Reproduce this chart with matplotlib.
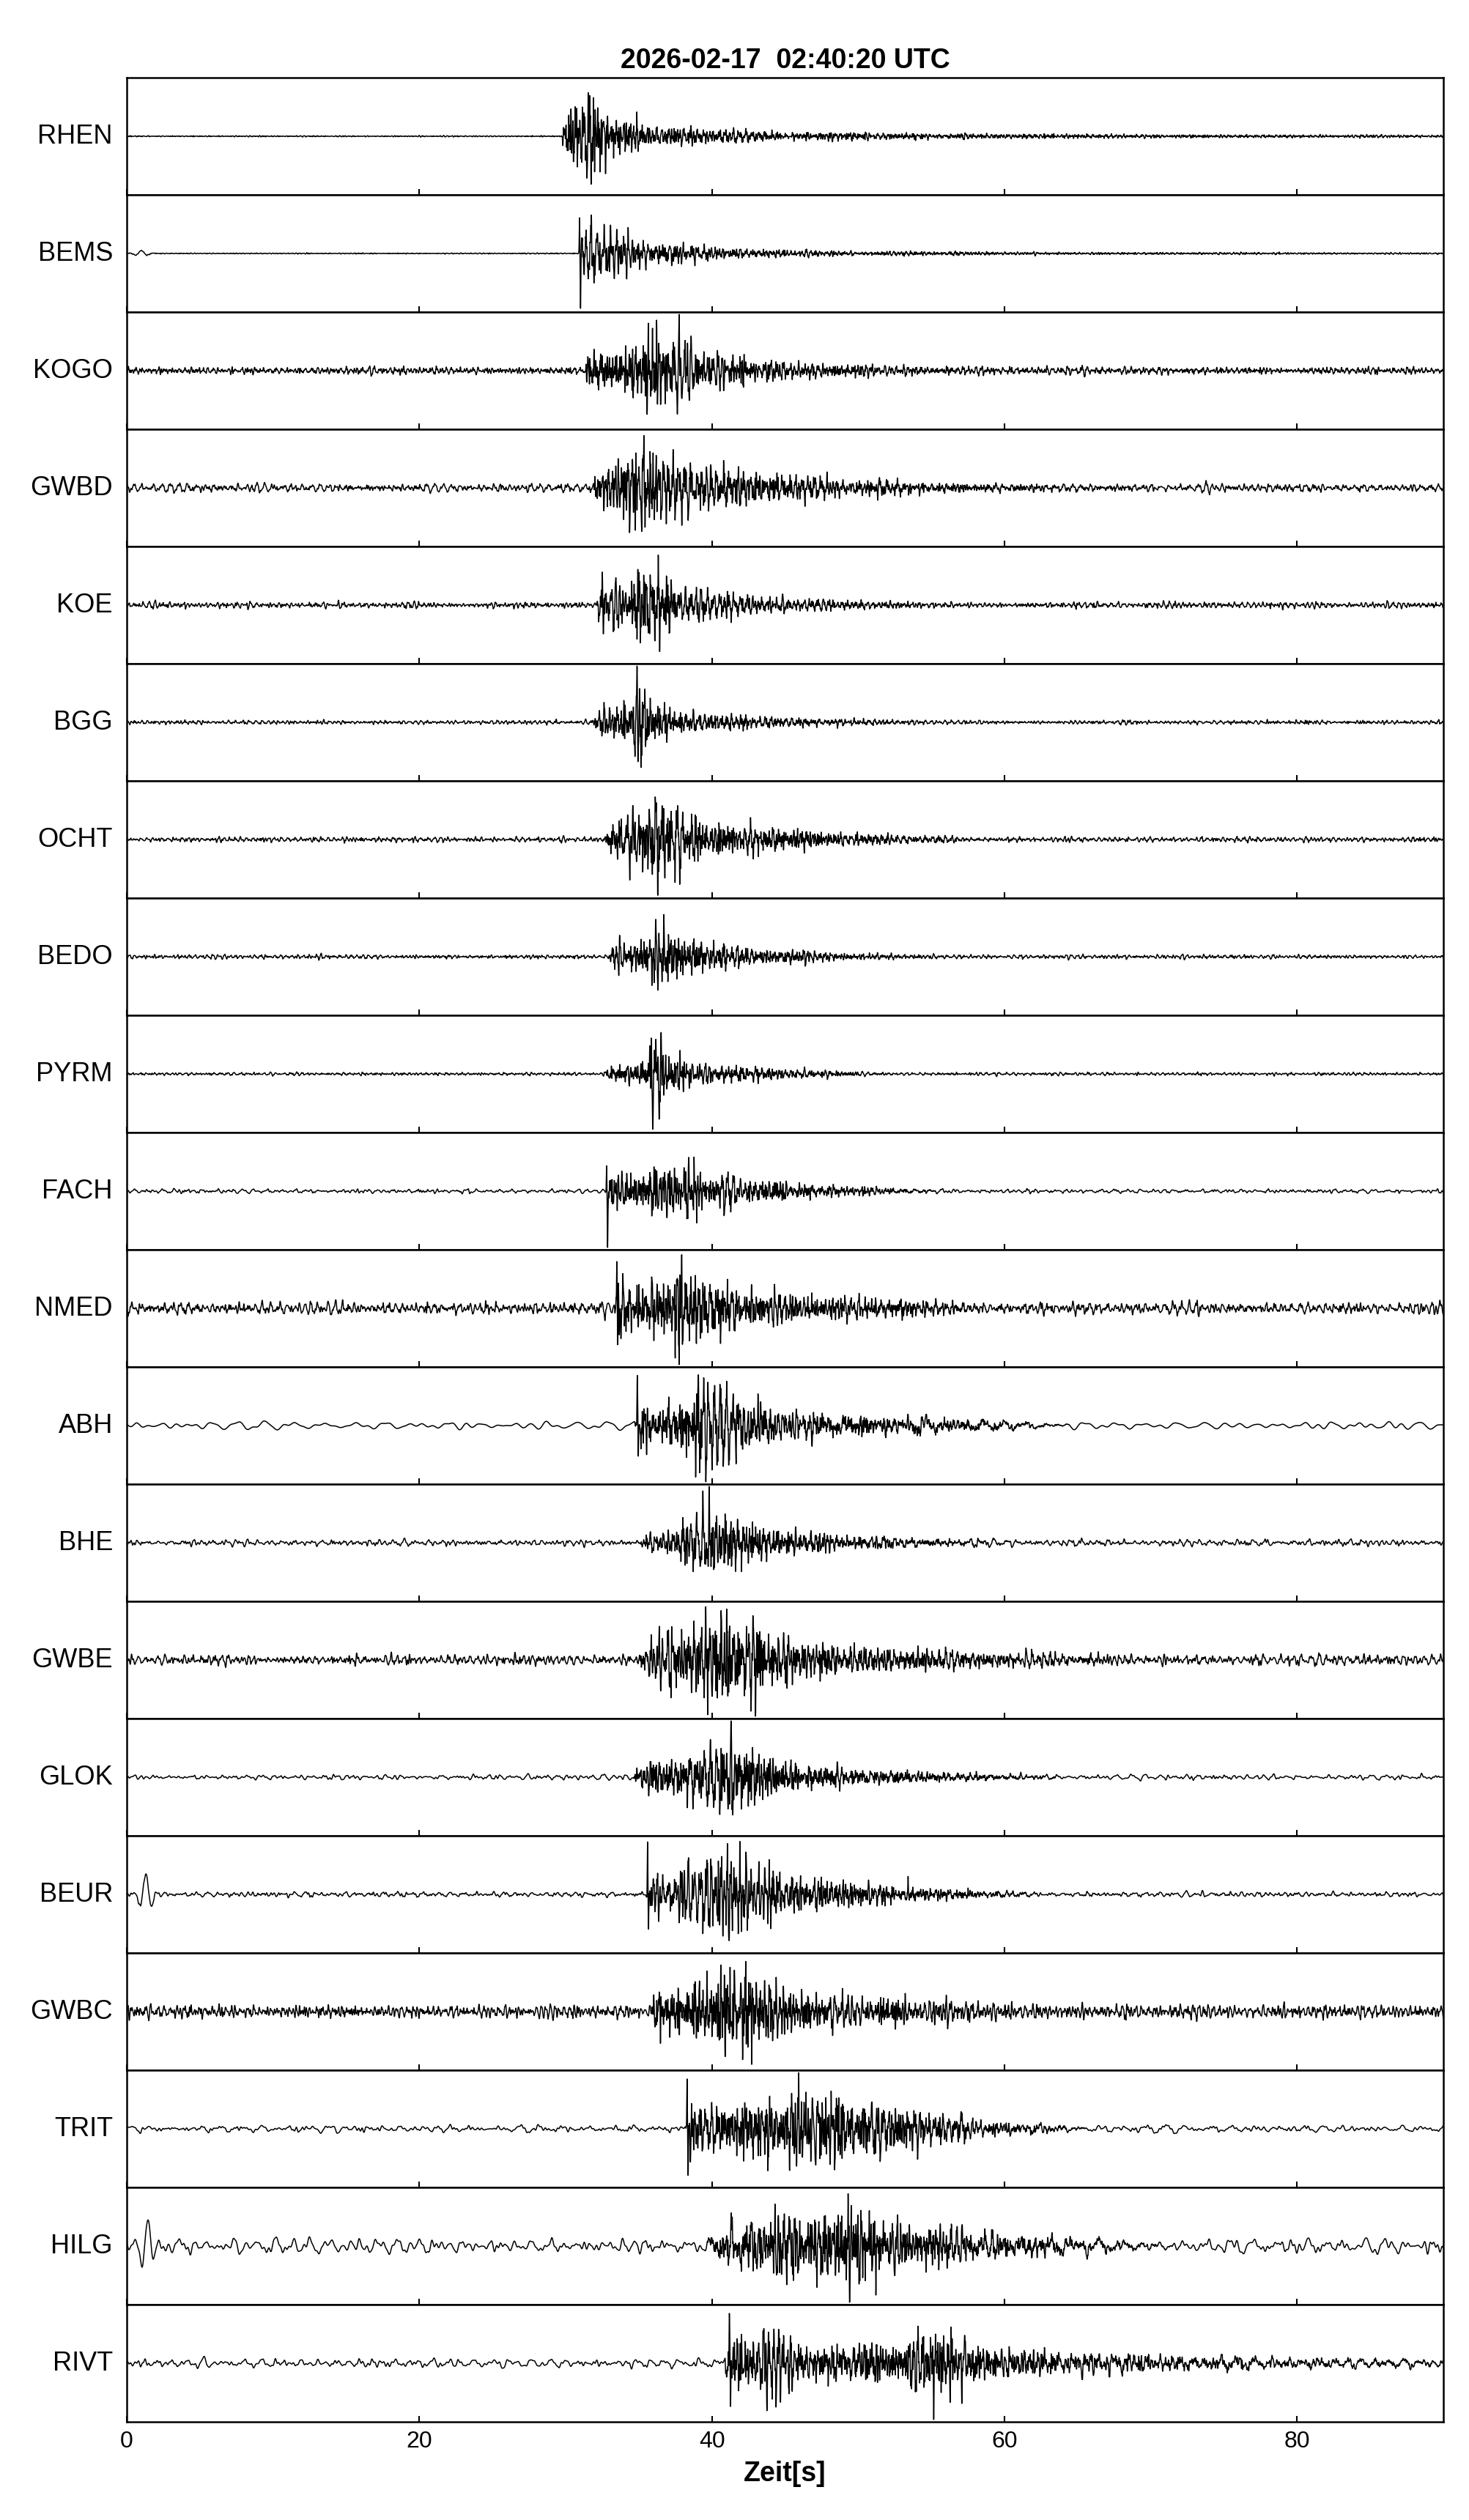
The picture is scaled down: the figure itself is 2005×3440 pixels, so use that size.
import numpy as np
import matplotlib
matplotlib.use("Agg")
import matplotlib.pyplot as plt

plt.rcParams['font.family'] = ['Liberation Sans', 'DejaVu Sans']

TITLE = "2026-02-17  02:40:20 UTC"
XLABEL = "Zeit[s]"
T_END = 90.0
FS = 100.0  # samples per second of the drawn traces
XTICKS = [0, 20, 40, 60, 80]

stations = ["RHEN", "BEMS", "KOGO", "GWBD", "KOE", "BGG", "OCHT", "BEDO", "PYRM", "FACH",
            "NMED", "ABH", "BHE", "GWBE", "GLOK", "BEUR", "GWBC", "TRIT", "HILG", "RIVT"]

# background noise level (fraction of half panel height) and its frequency band [Hz]
noise_amp = [0.012, 0.01, 0.08, 0.08, 0.06, 0.04, 0.05, 0.04, 0.03, 0.04,
             0.14, 0.09, 0.10, 0.10, 0.07, 0.05, 0.13, 0.07, 0.15, 0.11]
noise_lo = [3, 3, 2, 1.5, 2, 2, 2, 2, 2, 1, 1.5, 0.45, 1, 1.5, 0.8, 1, 2, 0.6, 0.5, 0.7]
noise_hi = [15, 15, 15, 12, 12, 12, 12, 12, 12, 8, 12, 1.5, 8, 10, 6, 8, 12, 5, 4, 5]

# event envelope: times [s] and amplitude levels
env_t = [
    [29.7, 30.1, 31.0, 31.8, 32.8, 34.0, 36.0, 40.0, 46.0, 55.0, 70.0, 90.0],
    [30.9, 31.2, 32.0, 33.0, 35.0, 38.0, 42.0, 50.0, 65.0, 90.0],
    [31.2, 31.6, 34.0, 35.8, 37.2, 39.0, 42.0, 46.0, 52.0, 60.0, 90.0],
    [31.8, 32.3, 34.0, 35.5, 37.0, 39.5, 44.0, 48.0, 53.0, 60.0, 70.0],
    [32.1, 32.4, 34.0, 35.6, 37.0, 40.0, 45.0, 50.0, 60.0],
    [31.9, 32.2, 34.5, 35.0, 35.8, 38.0, 42.0, 48.0, 56.0],
    [32.6, 33.0, 35.0, 36.1, 37.5, 40.0, 44.0, 48.0, 52.0, 60.0],
    [32.9, 33.2, 35.5, 36.6, 37.5, 40.0, 44.0, 50.0, 57.0],
    [32.5, 33.0, 35.5, 36.0, 36.8, 39.0, 43.0, 47.0, 53.0],
    [32.7, 33.0, 35.0, 37.0, 38.5, 40.0, 43.0, 48.0, 56.0],
    [33.3, 33.6, 35.0, 38.0, 40.0, 41.5, 44.0, 47.0, 53.0, 60.0],
    [34.7, 35.1, 37.0, 39.2, 41.0, 42.5, 45.0, 50.0, 57.0, 65.0],
    [34.8, 35.5, 37.5, 39.0, 41.5, 43.5, 46.0, 49.0, 55.0, 62.0],
    [34.8, 35.5, 37.5, 39.5, 41.5, 43.5, 46.0, 50.0, 57.0, 65.0, 72.0],
    [34.6, 35.2, 37.5, 39.5, 41.8, 43.5, 46.0, 50.0, 56.0, 65.0],
    [35.5, 35.8, 37.0, 38.5, 40.8, 42.5, 46.0, 50.0, 56.0, 63.0],
    [35.8, 36.2, 38.0, 40.0, 42.2, 43.5, 46.0, 50.0, 56.0, 65.0],
    [38.2, 38.6, 41.0, 44.0, 46.5, 48.5, 51.0, 54.5, 58.0, 66.0],
    [39.5, 41.0, 43.0, 45.0, 46.5, 49.5, 51.0, 54.0, 58.0, 65.0, 72.0],
    [40.8, 41.2, 43.0, 44.3, 46.5, 50.0, 53.5, 55.3, 57.0, 60.0, 66.0, 76.0, 85.0],
]
env_a = [
    [0, 0.35, 0.55, 0.9, 0.5, 0.3, 0.2, 0.12, 0.08, 0.05, 0.03, 0.02],
    [0, 0.45, 0.5, 0.4, 0.25, 0.15, 0.08, 0.04, 0.02, 0.01],
    [0, 0.35, 0.45, 0.85, 0.8, 0.45, 0.3, 0.15, 0.07, 0.03, 0.0],
    [0, 0.45, 0.6, 0.95, 0.6, 0.4, 0.25, 0.15, 0.1, 0.05, 0.0],
    [0, 0.5, 0.35, 0.85, 0.45, 0.25, 0.12, 0.06, 0.0],
    [0, 0.25, 0.35, 0.9, 0.4, 0.2, 0.12, 0.06, 0.0],
    [0, 0.25, 0.5, 0.9, 0.55, 0.35, 0.22, 0.13, 0.08, 0.0],
    [0, 0.2, 0.3, 0.9, 0.45, 0.25, 0.12, 0.05, 0.0],
    [0, 0.12, 0.25, 0.95, 0.4, 0.2, 0.12, 0.06, 0.0],
    [0, 0.3, 0.3, 0.5, 0.45, 0.3, 0.2, 0.1, 0.0],
    [0, 0.6, 0.5, 0.75, 0.8, 0.45, 0.35, 0.25, 0.15, 0.0],
    [0, 0.45, 0.45, 0.9, 0.75, 0.45, 0.3, 0.2, 0.1, 0.0],
    [0, 0.2, 0.5, 0.9, 0.95, 0.5, 0.35, 0.2, 0.1, 0.0],
    [0, 0.3, 0.45, 0.8, 0.9, 0.55, 0.35, 0.22, 0.15, 0.06, 0.0],
    [0, 0.4, 0.5, 0.75, 0.95, 0.55, 0.3, 0.18, 0.1, 0.0],
    [0, 0.4, 0.35, 0.45, 0.9, 0.6, 0.35, 0.2, 0.1, 0.0],
    [0, 0.45, 0.4, 0.55, 0.95, 0.6, 0.35, 0.25, 0.15, 0.0],
    [0, 0.45, 0.4, 0.65, 0.7, 0.6, 0.45, 0.35, 0.15, 0.0],
    [0, 0.3, 0.45, 0.8, 0.5, 0.95, 0.6, 0.4, 0.25, 0.1, 0.0],
    [0, 0.5, 0.55, 0.8, 0.4, 0.35, 0.55, 0.95, 0.5, 0.3, 0.18, 0.1, 0.05],
]

# sharp first arrival (time, upward and downward swing), nan = none
pulse_t = [np.nan, 30.95, np.nan, np.nan, np.nan, np.nan, np.nan, np.nan, np.nan, 32.8,
           33.5, 34.9, np.nan, np.nan, np.nan, 35.6, np.nan, 38.3, np.nan, 41.2]
pulse_up = [0, 0.66, 0, 0, 0, 0, 0, 0, 0, 0.4, 0.91, 0.91, 0, 0, 0, 0.85, 0, 0.8, 0, 0.55]
pulse_dn = [0, 0.95, 0, 0, 0, 0, 0, 0, 0, 0.95, 0.89, 0.86, 0, 0, 0, 0.6, 0, 0.93, 0, 0.3]

# long-period swing near the start of some traces
lp_t = [1.0, 1.0, 1.0, 1.0, 1.0, 1.0, 1.0, 1.0, 1.0, 1.0,
        1.0, 1.0, 1.0, 1.0, 1.0, 1.3, 1.0, 1.0, 1.43, 1.0]
lp_amp = [0, 0.05, 0, 0, 0, 0, 0, 0, 0, 0, 0, 0, 0, 0, 0, 0.35, 0, 0, 0.5, 0]

t = np.arange(0, T_END + 1 / FS, 1 / FS)


def hash01(x):
    # deterministic scrambling in [0, 1)
    return (np.sin(x * 12.9898 + 4.1414) * 43758.5453) % 1.0


def wiggle(f_lo, f_hi, seed, slope=0.5):
    # deterministic broadband texture: many sines with scrambled frequencies and phases
    k = np.arange(1, 601) + seed * 1000.0
    freqs = f_lo * (f_hi / f_lo) ** hash01(k)
    phases = 2 * np.pi * hash01(k + 0.37)
    amps = freqs ** -slope
    sig = (amps[:, None] * np.sin(2 * np.pi * freqs[:, None] * t[None, :]
                                  + phases[:, None])).sum(axis=0)
    return sig / sig.std()


def build_trace(i):
    noise = noise_amp[i] * wiggle(noise_lo[i], noise_hi[i], 2 * i + 1) / 2.6
    env = np.interp(t, env_t[i], env_a[i], left=0.0, right=env_a[i][-1])
    event = env * wiggle(2.0, 20.0, 2 * i + 2, slope=0.2) / 2.3
    y = noise + event
    if not np.isnan(pulse_t[i]):
        tp = pulse_t[i]
        y = y + pulse_up[i] * np.exp(-((t - tp) / 0.025) ** 2)
        y = y - pulse_dn[i] * np.exp(-((t - tp - 0.07) / 0.025) ** 2)
    if lp_amp[i] > 0:
        y = y + lp_amp[i] * np.cos(2 * np.pi * (t - lp_t[i]) / 0.9) * np.exp(-((t - lp_t[i]) / 0.55) ** 2)
    peak = np.abs(y).max()
    if peak > 0.96:
        y = y * 0.96 / peak
    return y


fig, axes = plt.subplots(len(stations), 1, sharex=True, figsize=(20.05, 34.41), dpi=100,
                         gridspec_kw={'hspace': 0})
fig.subplots_adjust(left=173 / 2005, right=1970 / 2005, top=1 - 107 / 3441, bottom=134 / 3441)

for i, ax in enumerate(axes):
    ax.plot(t, build_trace(i), color='black', lw=1.1)
    ax.set_xlim(0, T_END)
    ax.set_ylim(-1, 1)
    ax.set_yticks([])
    ax.set_xticks(XTICKS)
    ax.tick_params(axis='x', direction='in', length=6, width=1.5, labelsize=23, pad=8)
    for sp in ax.spines.values():
        sp.set_linewidth(1.8)
    ax.text(-0.0106, 0.5, stations[i], transform=ax.transAxes, ha='right', va='center', fontsize=26)

axes[0].set_title(TITLE, fontsize=27, fontweight='bold', pad=10)
axes[-1].set_xlabel(XLABEL, fontsize=27, fontweight='bold', labelpad=8)

fig.savefig("out.png", dpi=100)
